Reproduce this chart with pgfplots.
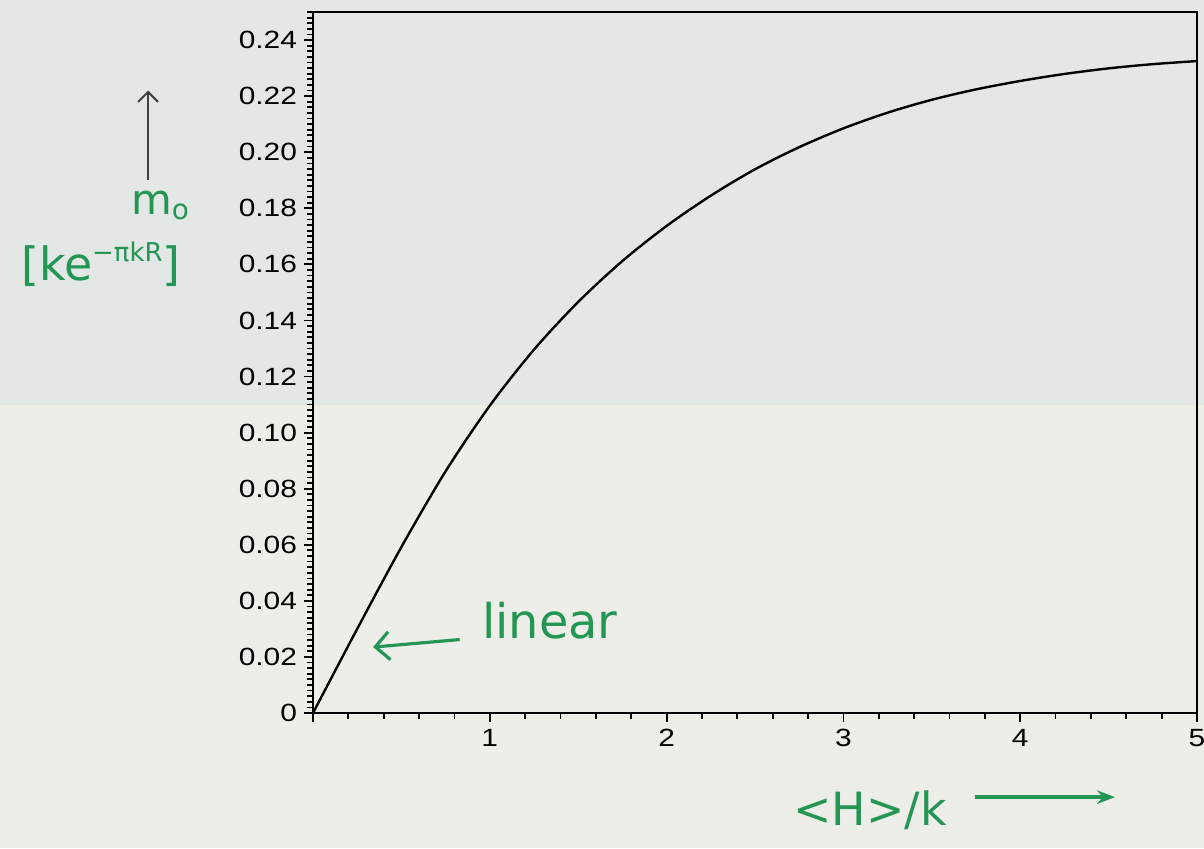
\documentclass[border=0pt]{standalone}
\usepackage{pgfplots}
\pgfplotsset{compat=1.18}
\usetikzlibrary{arrows.meta}
\usepackage{fontspec}
\setmainfont{Liberation Sans}[FakeStretch=1.2]
\newfontfamily\hand{DejaVu Sans}
\definecolor{bgA}{RGB}{227,231,229}
\definecolor{bgB}{RGB}{237,238,231}
\definecolor{pen}{RGB}{34,150,82}
\begin{document}
\begin{tikzpicture}[x=1bp,y=1bp]
\fill[bgA] (-156.5,-67.5) rectangle (445.5,356.5);
\fill[bgB] (-156.5,-67.5) rectangle (445.5,154);
\begin{axis}[
  at={(0,0)}, anchor=south west,
  scale only axis, width=442bp, height=350.5bp,
  xmin=0, xmax=5, ymin=0, ymax=0.25,
  xtick={0,1,2,3,4,5}, xticklabels={,1,2,3,4,5},
  minor x tick num=4,
  ytick={0,0.02,0.04,0.06,0.08,0.10,0.12,0.14,0.16,0.18,0.20,0.22,0.24},
  yticklabels={0,0.02,0.04,0.06,0.08,0.10,0.12,0.14,0.16,0.18,0.20,0.22,0.24},
  minor ytick={0,0.002,...,0.2501},
  tick align=outside, xtick pos=bottom, ytick pos=left,
  major tick length=4.5bp, minor tick length=2.8bp,
  tick style={black, line width=0.9pt},
  axis line style={line width=1.3pt},
  clip=false,
  ticklabel style={font=\fontsize{12.5}{14}\selectfont, text=black},
  /pgf/number format/assume math mode=true,
]
\addplot[black, line width=1.2pt, smooth] coordinates {
(0,0)(0.25,0.0300)(0.5,0.0592)(0.75,0.0862)(1.0,0.1096)(1.25,0.1296)
(1.5,0.1466)(1.75,0.1612)(2.0,0.1737)(2.25,0.1845)(2.5,0.1939)
(2.75,0.2018)(3.0,0.2085)(3.25,0.2141)(3.5,0.2187)(3.75,0.2224)
(4.0,0.2254)(4.25,0.2279)(4.5,0.2299)(4.75,0.2314)(5.0,0.2325)};
\draw[black!75, line width=1pt, -{Straight Barb[length=5pt]}] (axis cs:-0.933,0.190) -- (axis cs:-0.933,0.222);
\node[text=pen, font=\hand\fontsize{21}{22}\selectfont] at (axis cs:-0.865,0.181) {m\raisebox{-0.25ex}{\fontsize{14}{14}\selectfont o}};
\node[text=pen, font=\hand\fontsize{23}{24}\selectfont] at (axis cs:-1.200,0.160) {[ke\raisebox{0.75ex}{\fontsize{13}{13}\selectfont −πkR}]};
\node[text=pen, font=\hand\fontsize{24}{26}\selectfont] at (axis cs:1.340,0.0330) {linear};
\draw[pen, line width=1.6pt, -{Straight Barb[length=7pt]}] (axis cs:0.83,0.0262) -- (axis cs:0.34,0.0235);
\node[text=pen, font=\hand\fontsize{23}{26}\selectfont] at (axis cs:3.15,-0.0345) {<H>/k};
\draw[pen, line width=2.2pt, -{Stealth[length=9pt]}] (axis cs:3.744,-0.030) -- (axis cs:4.536,-0.030);
\end{axis}
\pgfresetboundingbox
\path[use as bounding box] (-156.5,-67.5) rectangle (445.5,356.5);
\end{tikzpicture}
\end{document}
